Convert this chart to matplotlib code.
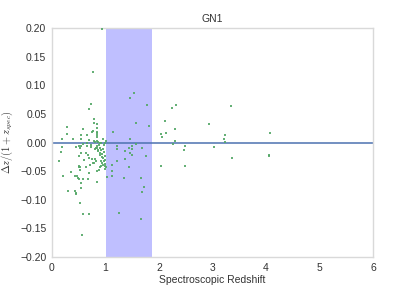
import matplotlib
matplotlib.use("Agg")
import matplotlib.pyplot as plt

# spectroscopic redshift vs. normalised photo-z offset (GN1 field)
z_spec = [
    0.94, 0.76, 0.73, 0.69, 0.78, 0.79, 0.84,
    0.29, 0.585, 0.84, 0.77, 0.75, 0.835, 0.85, 0.85, 0.835,
    0.29, 0.39, 0.65, 0.54, 0.55, 0.19, 0.70, 0.95,
    0.78, 0.80, 0.85, 0.87, 0.89, 0.92, 1.01, 1.0,
    0.455, 0.50, 0.52, 0.55, 0.59, 0.65, 0.66, 0.73, 0.74,
    0.80, 0.82, 0.85, 0.86, 0.87,
    0.89, 0.91, 0.90, 0.905, 0.93, 0.96, 0.965, 0.91,
    0.18, 0.17, 0.14, 0.21,
    0.54, 0.635, 0.68, 0.685, 0.60, 0.75, 0.81, 0.82, 0.79, 0.77,
    0.72, 0.64, 0.51, 0.51,
    0.94, 0.99, 1.0, 1.0, 1.01, 1.0,
    0.89, 0.91, 0.85, 0.88,
    0.355, 0.44, 0.49, 0.50, 0.53, 0.59, 0.69, 0.68,
    0.55, 0.55, 0.31, 0.43, 0.45, 0.45,
    0.53, 0.58, 0.70, 0.57, 0.835, 1.03, 0.52, 0.50, 0.46,
    0.97, 0.98, 0.93, 0.88, 0.95, 0.99, 0.84, 0.96,
    1.53, 1.46, 1.78, 1.57, 1.82, 1.14, 1.46, 1.58,
    1.215, 1.215, 1.49, 1.44, 1.50, 1.69, 1.36, 1.46, 1.50,
    1.76, 1.36, 1.22, 1.44, 1.13, 1.13, 1.13, 1.35, 1.67,
    1.72, 1.69, 1.26, 1.66,
    2.04, 2.32, 2.25, 2.11, 2.30, 2.04, 2.125, 2.06, 2.30, 2.26, 2.49, 2.47, 2.48,
    2.94, 3.35, 3.23, 3.21, 3.23, 3.03, 3.37, 4.08, 4.05, 4.05,
]
dz = [
    0.198, 0.123, 0.067, 0.058, 0.041, 0.034, 0.032,
    0.027, 0.024, 0.025, 0.020, 0.019, 0.018, 0.016, 0.0126, 0.009,
    0.015, 0.0067, 0.0126, 0.013, 0.0067, 0.0067, 0.005, 0.0056,
    0.002, 0.001, 0.002, 0.001, 0.0, -0.001, 0.003, -0.001,
    -0.007, -0.006, -0.009, -0.006, -0.002, -0.001, -0.006, -0.005, -0.007,
    -0.012, -0.010, -0.010, -0.013, -0.015,
    -0.009, -0.013, -0.018, -0.022, -0.025, -0.027, -0.032, -0.033,
    -0.008, -0.017, -0.033, -0.059,
    -0.018, -0.019, -0.021, -0.027, -0.030, -0.029, -0.029, -0.033, -0.036, -0.035,
    -0.039, -0.043, -0.043, -0.024,
    -0.036, -0.031, -0.038, -0.041, -0.043, -0.046,
    -0.043, -0.041, -0.050, -0.048,
    -0.051, -0.058, -0.062, -0.064, -0.048, -0.064, -0.053, -0.063,
    -0.071, -0.080, -0.085, -0.085, -0.088, -0.090,
    -0.105, -0.124, -0.124, -0.162, -0.068, -0.060, -0.042, -0.041, -0.059,
    -0.004, -0.016, -0.020, -0.005, -0.011, -0.024, -0.006, -0.040,
    0.086, 0.078, 0.066, 0.034, 0.029, 0.019, 0.0067, -0.002,
    -0.006, -0.012, -0.006, -0.010, -0.011, -0.009, -0.015, -0.018, -0.021,
    -0.024, -0.028, -0.032, -0.043, -0.039, -0.050, -0.059, -0.062, -0.062,
    -0.077, -0.087, -0.123, -0.134,
    -0.041, 0.065, 0.060, 0.038, 0.024, 0.015, 0.017, 0.0096, 0.002, -0.003, -0.006, -0.013, -0.041,
    0.032, 0.064, 0.014, 0.0067, 0.001, -0.008, -0.027, 0.0166, -0.023, -0.021,
]

span_lo, span_hi = 1.02, 1.87

plt.rcParams["font.family"] = ["Liberation Sans", "DejaVu Sans"]
plt.rcParams["mathtext.fontset"] = "cm"

fig = plt.figure(figsize=(4.15, 2.86), dpi=100)
ax = fig.add_subplot(1, 1, 1)

ax.axvspan(span_lo, span_hi, color="blue", alpha=0.25, lw=0, zorder=1)
ax.axhline(0, color="#4c72b0", lw=1.1, zorder=2)
ax.plot(z_spec, dz, "s", color="#55a868", ms=2.1, mew=0, alpha=0.9, zorder=3)

ax.set_xlim(0, 6)
ax.set_ylim(-0.2, 0.2)
ax.set_xticks(range(0, 7))
ax.set_yticks([-0.2, -0.15, -0.1, -0.05, 0.0, 0.05, 0.1, 0.15, 0.2])
ax.set_yticklabels(["\u22120.20", "\u22120.15", "\u22120.10", "\u22120.05",
                    "0.00", "0.05", "0.10", "0.15", "0.20"])

for s in ax.spines.values():
    s.set_color("#d9d9d9")
    s.set_linewidth(1)
ax.tick_params(length=0, labelsize=7.5, colors="#333333", pad=4)

ax.set_title("GN1", fontsize=7.5, color="#333333", pad=4)
ax.set_xlabel("Spectroscopic Redshift", fontsize=7.5, color="#333333", labelpad=2)
ax.set_ylabel(r"$\Delta z/(1+z_{spec})$", fontsize=7.5, color="#333333", labelpad=4)

fig.subplots_adjust(left=0.125, right=0.899, bottom=0.101, top=0.902)
fig.savefig("out.png", dpi=100)
